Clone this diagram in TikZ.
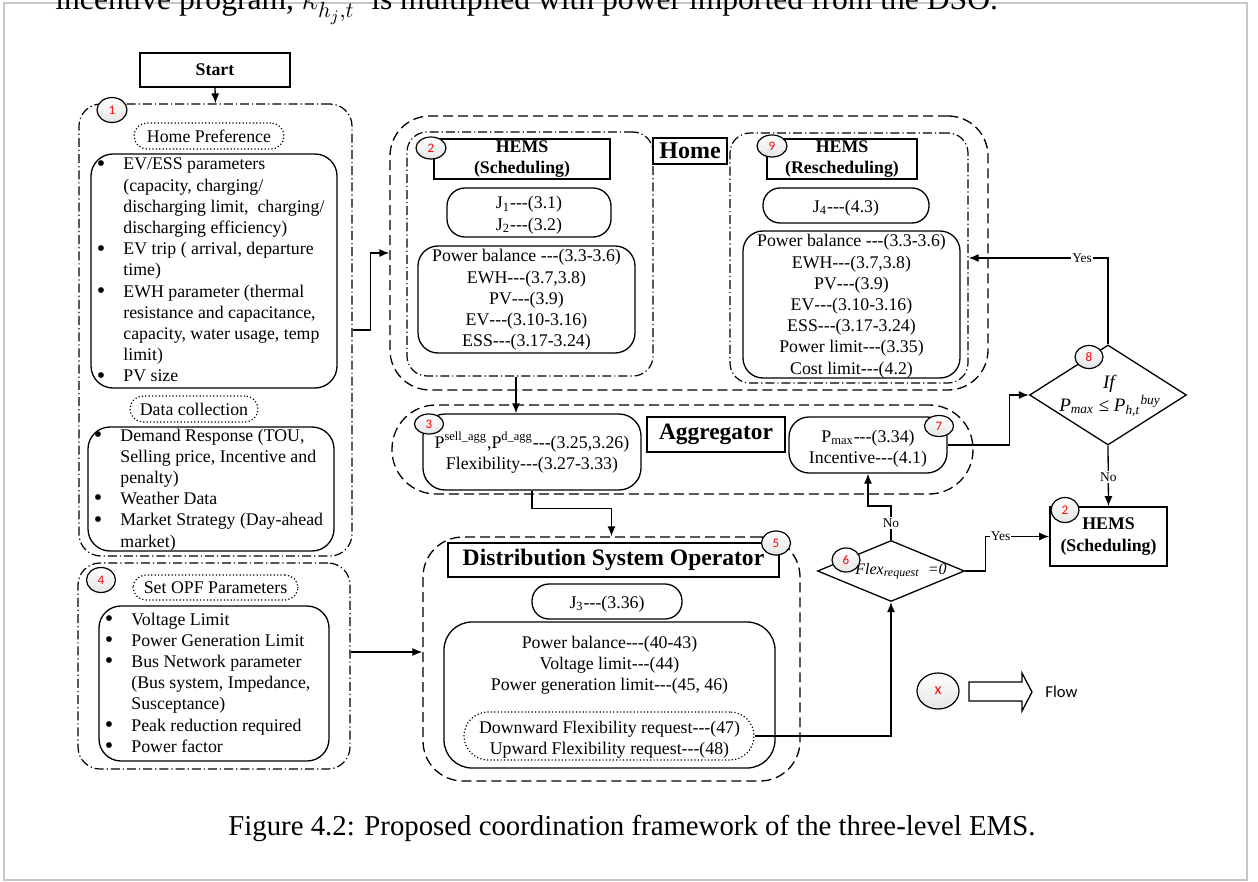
\documentclass[tikz,border=0pt]{standalone}
\usepackage{fontspec}
\usepackage{graphicx}
\setmainfont{Liberation Serif}
\setsansfont{Carlito}
\usetikzlibrary{arrows.meta,calc,fit,shapes.geometric}
% three plain hyphens, kept apart so they never merge into a dash
\newcommand\tdash{\mbox{-}\mbox{-}\mbox{-}}
% hanging bullet for the parameter lists
\newcommand\bul{\makebox[0pt][r]{\raisebox{-0.15ex}{\scalebox{1.35}{\textbullet}}\hspace{9pt}}}

\begin{document}
\begin{tikzpicture}[x=0.5pt,y=-0.5pt,
  txt/.style={font=\fontsize{8.9}{10.6}\selectfont, inner sep=0},
  rbox/.style={draw, line width=0.65pt, inner sep=0, rounded corners=#1},
  rbox/.default=9pt,
  ttl/.style={draw, line width=0.8pt, inner sep=0, font=\bfseries\fontsize{8.9}{10.6}\selectfont, align=center},
  grp/.style={draw, line width=0.6pt, inner sep=0, rounded corners=#1,
    dash pattern=on 4.5pt off 1.5pt on 0.6pt off 1.5pt},
  outer/.style={draw, line width=0.65pt, inner sep=0, rounded corners=#1,
    dash pattern=on 5pt off 2.5pt},
  dotbox/.style={draw, line width=0.6pt, inner sep=0, rounded corners=#1,
    dash pattern=on 0.6pt off 1.1pt},
  num/.style={ellipse, draw, line width=0.6pt, inner sep=0,
    top color=white, bottom color=blue!4!black!10, text=red,
    font=\sffamily\fontsize{6.5}{7.5}\selectfont},
  dec/.style={diamond, draw, line width=0.65pt, inner sep=0},
  lbl/.style={fill=white, inner sep=0.6pt, font=\fontsize{6.7}{8}\selectfont},
  arr/.style={-{Latex[length=5pt,width=4pt]}, line width=0.65pt},
]
\useasboundingbox (0,0) rectangle (1258,882);
\clip (0,0) rectangle (1258,882);

% page frame and surrounding page text
\draw[black!22, line width=0.6pt] (4,3) rectangle (1247,880);
\node[anchor=base west, inner sep=0, font=\fontsize{15.8}{18}\selectfont] (prevline) at (55,10)
  {incentive program, $\kappa_{h_j,t}^{\;inc}$\ \ is multiplied with power imported from the DSO.};
\node[anchor=base west, inner sep=0, font=\fontsize{14.4}{17}\selectfont] (caption) at (228,835)
  {Figure 4.2: Proposed coordination framework of the three-level EMS.};

% ---------- start ----------
\node[ttl, fit={(140,53) (290,87)}] (start) {};
\node[txt, font=\bfseries\fontsize{8.9}{10.6}\selectfont] (startT) at (start.center) {Start};

% ---------- block 1: home preference and data collection ----------
\node[grp=11pt, fit={(79,104) (352,556)}] (b1) {};
\node[dotbox=6.5pt, fit={(134,123) (284,149)}] (hp) {};
\node[txt] (hpT) at (hp.center) {Home Preference};
\node[rbox=11pt, fit={(91,154) (337,388)}] (hpl) {};
\node[txt, anchor=base west] (hplT) at (123,170) {\begin{tabular}[t]{@{}l@{}}
\bul EV/ESS parameters\\
(capacity, charging/\\
discharging limit,\ \ charging/\\
discharging efficiency)\\
\bul EV trip ( arrival, departure\\
time)\\
\bul EWH parameter (thermal\\
resistance and capacitance,\\
capacity, water usage, temp\\
limit)\\
\bul PV size
\end{tabular}};
\node[dotbox=6.5pt, fit={(130,396) (258,422)}] (dc) {};
\node[txt] (dcT) at (dc.center) {Data collection};
\node[rbox=11pt, fit={(88,427) (334,551)}] (dcl) {};
\node[txt, anchor=base west] (dclT) at (120,441) {\begin{tabular}[t]{@{}l@{}}
\bul Demand Response (TOU,\\
Selling price, Incentive and\\
penalty)\\
\bul Weather Data\\
\bul Market Strategy (Day-ahead\\
market)
\end{tabular}};

% ---------- block 4: OPF parameters ----------
\node[grp=11pt, fit={(78,563) (350,769)}] (b4) {};
\node[dotbox=6.5pt, fit={(133,575) (298,600)}] (opf) {};
\node[txt] (opfT) at (opf.center) {Set OPF Parameters};
\node[rbox=11pt, fit={(99,606) (329,761)}] (opfl) {};
\node[txt, anchor=base west] (opflT) at (131,625) {\begin{tabular}[t]{@{}l@{}}
\bul Voltage Limit\\
\bul Power Generation Limit\\
\bul Bus Network parameter\\
(Bus system, Impedance,\\
Susceptance)\\
\bul Peak reduction required\\
\bul Power factor
\end{tabular}};

% ---------- home level ----------
\node[outer=20pt, fit={(390,116) (988,390)}] (home) {};
\node[grp=10pt, fit={(407,132) (653,376)}] (sched) {};
\node[ttl, fit={(434,139) (610,179)}] (hems1) {};
\node[ttl, draw=none] (hems1T) at (hems1.center) {HEMS\\(Scheduling)};
\node[rbox=9pt, fit={(447,188) (611,237)}] (j12) {};
\node[txt, anchor=base] (j12T) at (529,209) {\begin{tabular}[t]{@{}c@{}}
J\textsubscript{1}\tdash(3.1)\\ J\textsubscript{2}\tdash(3.2)\end{tabular}};
\node[rbox=10pt, fit={(418,246) (635,353)}] (con1) {};
\node[txt, anchor=base] (con1T) at (526.5,262) {\begin{tabular}[t]{@{}c@{}}
Power balance \tdash(3.3-3.6)\\
EWH\tdash(3.7,3.8)\\
PV\tdash(3.9)\\
EV\tdash(3.10-3.16)\\
ESS\tdash(3.17-3.24)
\end{tabular}};
\node[ttl, fit={(653,138) (727,164)}] (homelbl) {};
\node[inner sep=0, font=\bfseries\fontsize{12}{14}\selectfont] (homelblT) at (homelbl.center) {Home};
\node[grp=10pt, fit={(730,133) (968,383)}] (resched) {};
\node[ttl, fit={(767,139) (917,179)}] (hems9) {};
\node[ttl, draw=none] (hems9T) at (hems9.center) {HEMS\\(Rescheduling)};
\node[rbox=8.5pt, fit={(763,188) (929,223)}] (j4) {};
\node[txt, anchor=base] (j4T) at (846,213) {J\textsubscript{4}\tdash(4.3)};
\node[rbox=10pt, fit={(743,231) (960,378)}] (con9) {};
\node[txt, anchor=base] (con9T) at (851.5,247) {\begin{tabular}[t]{@{}c@{}}
Power balance \tdash(3.3-3.6)\\
EWH\tdash(3.7,3.8)\\
PV\tdash(3.9)\\
EV\tdash(3.10-3.16)\\
ESS\tdash(3.17-3.24)\\
Power limit\tdash(3.35)\\
Cost limit\tdash(4.2)
\end{tabular}};

% ---------- aggregator level ----------
\node[outer=22pt, fit={(392,405) (973,494)}] (agg) {};
\node[rbox=11pt, fit={(423,414) (641,490)}] (b3) {};
\node[txt, anchor=base] (b3T) at (532,448) {\begin{tabular}[t]{@{}c@{}}
P\textsuperscript{sell\_agg},P\textsuperscript{d\_agg}\tdash(3.25,3.26)\\
Flexibility\tdash(3.27-3.33)
\end{tabular}};
\node[ttl, fit={(647,417) (785,452)}] (agglbl) {};
\node[inner sep=0, font=\bfseries\fontsize{11.7}{14}\selectfont] (agglblT) at (agglbl.center) {Aggregator};
\node[rbox=10pt, fit={(789,417) (947,473)}] (b7) {};
\node[txt, anchor=base] (b7T) at (868,442) {\begin{tabular}[t]{@{}c@{}}
P\textsubscript{max}\tdash(3.34)\\
Incentive\tdash(4.1)
\end{tabular}};

% ---------- DSO level ----------
\node[outer=20pt, fit={(423,537) (800,781)}] (dso) {};
\node[ttl, fit={(448,543) (779,577)}] (dsolbl) {};
\node[inner sep=0, font=\bfseries\fontsize{11.8}{14}\selectfont] (dsolblT) at (dsolbl.center) {Distribution System Operator};
\node[rbox=8.5pt, fit={(532,584) (682,619)}] (j3) {};
\node[txt, anchor=base] (j3T) at (607,608) {J\textsubscript{3}\tdash(3.36)};
\node[rbox=14pt, fit={(444,622) (775,768)}] (con5) {};
\node[txt, anchor=base] (con5T) at (609.5,648) {\begin{tabular}[t]{@{}c@{}}
Power balance\tdash(40-43)\\
Voltage limit\tdash(44)\\
Power generation limit\tdash(45, 46)
\end{tabular}};
\node[dotbox=12pt, fit={(464,712) (754,760)}] (flex) {};
\node[txt, anchor=base] (flexT) at (609.5,733) {\begin{tabular}[t]{@{}c@{}}
Downward Flexibility request\tdash(47)\\
Upward Flexibility request\tdash(48)
\end{tabular}};

% ---------- decisions ----------
\node[dec, minimum width=73.5pt, minimum height=30.5pt] (d6) at (891,571) {};
\node[inner sep=0, font=\fontsize{8}{10}\selectfont] (d6T) at (901,571)
  {\textit{Flex}\textsubscript{\textit{request}}\ \ \textit{=0}};
\node[dec, minimum width=78.5pt, minimum height=50pt] (d8) at (1108,395) {};
\node[inner sep=0, align=center, font=\fontsize{9.5}{11.5}\selectfont] (d8T) at (1110,396)
  {\textit{If}\\ \textit{P}\textsubscript{\textit{max}} ≤ \textit{P}\textsubscript{\textit{h,t}}\textsuperscript{\textit{buy}}};
\node[ttl, fit={(1050,507) (1167,566)}] (hems2) {};
\node[ttl, draw=none] (hems2T) at (hems2.center) {HEMS\\(Scheduling)};

% ---------- connectors ----------
\coordinate (dsoin) at ($(dso.west)+(0,-7)$);
\draw[arr] (start.south) -- (b1.north);
\draw[arr] (b1.east) -- ++(18,0) |- (home.west);
\draw[arr] (b4.east |- dsoin) -- (dsoin);
\draw[arr] ([xshift=-7pt]sched.south) -- ([xshift=-7pt]sched.south |- b3.north);
\draw[arr] (b3.south) -- ++(0,18) -| (dso.north);
\draw[arr] (flex.east) -| (d6.south);
\draw[arr] (d6.north) -- node[lbl]{No} ++(0,-34) -| (b7.south);
\draw[arr] (d6.east) -- ++(20,0) |- node[lbl, pos=0.62]{Yes} (hems2.west);
\draw[arr] (b7.east) -- ++(62,0) |- (d8.west);
\draw[arr] (d8.north) |- node[lbl, pos=0.593]{Yes} (resched.east);
\draw[arr] (d8.south) -- node[lbl, pos=0.52]{No} (hems2.north);

% ---------- step numbers ----------
\node[num, minimum width=15pt, minimum height=12.5pt] (n1) at (112,110) {1};
\node[num, minimum width=14.5pt, minimum height=12.5pt] (n4) at (101,580) {4};
\node[num, minimum width=15pt, minimum height=11pt] (n2) at (431,148) {2};
\node[num, minimum width=15pt, minimum height=11pt] (n9) at (772,146) {9};
\node[num, minimum width=14.5pt, minimum height=10pt] (n3) at (429,424) {3};
\node[num, minimum width=14.5pt, minimum height=10.5pt] (n7) at (939,426) {7};
\node[num, minimum width=14.5pt, minimum height=12pt] (n5) at (776,543) {5};
\node[num, minimum width=14pt, minimum height=12pt] (n6) at (846,560) {6};
\node[num, minimum width=14pt, minimum height=11.5pt] (n8) at (1089,357) {8};
\node[num, minimum width=14pt, minimum height=12.5pt] (n2b) at (1065,510) {2};

% ---------- legend ----------
\node[num, minimum width=21pt, minimum height=18pt, font=\sffamily\fontsize{8}{9}\selectfont] (nx) at (938,691) {x};
\draw[line width=0.65pt] (969,682) -- (1022,682) -- (1022,673) -- (1032,692)
  -- (1022,711) -- (1022,701) -- (969,701) -- cycle;
\node[anchor=west, inner sep=0, font=\sffamily\fontsize{8.3}{10}\selectfont] (flowT) at (1045,692) {Flow};
\end{tikzpicture}
\end{document}
